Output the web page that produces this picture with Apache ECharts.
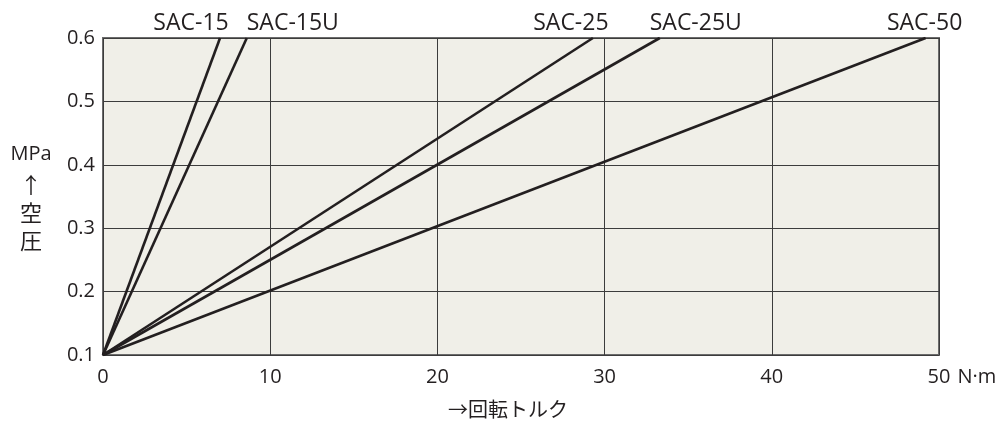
<!DOCTYPE html>
<html>
<head>
<meta charset="utf-8">
<script src="https://cdn.jsdelivr.net/npm/echarts@6/dist/echarts.min.js"></script>
<style>
  html, body { margin: 0; padding: 0; background: #fff; }
  #chart { width: 1003px; height: 434px; }
</style>
</head>
<body>
<div id="chart"></div>
<script>
"use strict";

// 機種ごとの直線: 原点 (0, 0.1MPa) から 0.6MPa でのトルク
const models = ["SAC-15", "SAC-15U", "SAC-25", "SAC-25U", "SAC-50"];
const startTorque = [0, 0, 0, 0, 0];
const startPressure = [0.1, 0.1, 0.1, 0.1, 0.1];
const endTorque = [7.0, 8.6, 29.3, 33.3, 49.2];
const endPressure = [0.6, 0.6, 0.6, 0.6, 0.6];
const xTicks = [0, 10, 20, 30, 40, 50];
const yTicks = [0.1, 0.2, 0.3, 0.4, 0.5, 0.6];

// ラベルの横ずらし (px)
const labelShift = [-29, 46, -22, 36, -1];

const INK = "#231f20";
const FONT = "'Open Sans', 'Noto Sans', 'Noto Sans CJK JP', sans-serif";
const CJK = "'Noto Sans CJK JP', sans-serif";

const chart = echarts.init(document.getElementById("chart"));

const option = {
  animation: false,
  textStyle: { fontFamily: FONT, color: INK },
  grid: {
    left: 103, right: 64, top: 38, bottom: 79,
    outerBoundsMode: "none",
    containLabel: false,
    show: true, backgroundColor: "#f0efe8",
    borderColor: "#6b6b6b", borderWidth: 2,
  },
  xAxis: {
    type: "value",
    min: xTicks[0], max: xTicks[xTicks.length - 1], interval: 10,
    axisLine: { show: false },
    axisTick: { show: false },
    splitLine: { lineStyle: { color: "#3c3c3c", width: 1 } },
    axisLabel: {
      fontSize: 20, color: INK, margin: 12, fontFamily: FONT,
      formatter: (v) => (v === 50 ? "{p|}50{u|N·m}" : String(v)),
      rich: {
        p: { width: 48 },
        u: { fontSize: 20, color: INK, padding: [0, 0, 0, 5], width: 43, fontFamily: FONT },
      },
    },
    name: "→回転トルク",
    nameLocation: "middle",
    nameGap: 44,
    nameTextStyle: { fontSize: 20, color: INK, padding: [0, 26, 0, 0], fontFamily: CJK },
  },
  yAxis: {
    type: "value",
    min: yTicks[0], max: yTicks[yTicks.length - 1], interval: 0.1,
    axisLine: { show: false },
    axisTick: { show: false },
    splitLine: { lineStyle: { color: "#3c3c3c", width: 1 } },
    axisLabel: {
      fontSize: 20, color: INK, margin: 8, fontFamily: FONT,
      formatter: (v) => v.toFixed(1),
    },
    name: "{a|MPa}\n{b|↑}\n{b|空}\n{b|圧}",
    nameLocation: "middle",
    nameRotate: 0,
    nameGap: 72,
    nameMoveOverlap: false,
    nameTextStyle: {
      align: "center",
      fontSize: 20,
      fontFamily: FONT,
      rich: {
        a: { fontSize: 20, color: INK, lineHeight: 32, align: "center", fontFamily: FONT },
        b: { fontSize: 22, color: INK, lineHeight: 28, align: "center", fontFamily: CJK },
      },
    },
  },
  series: models.map((name, i) => ({
    name,
    type: "line",
    showSymbol: true,
    symbol: "circle",
    symbolSize: 0,
    lineStyle: { color: INK, width: 2.6 },
    itemStyle: { color: INK },
    emphasis: { disabled: true },
    data: [
      { value: [startTorque[i], startPressure[i]], label: { show: false } },
      {
        value: [endTorque[i], endPressure[i]],
        label: {
          show: true, position: "top", distance: 3,
          offset: [labelShift[i], 0],
          formatter: name, fontSize: 23, color: INK, fontFamily: FONT,
        },
      },
    ],
  })),
};

chart.setOption(option);
</script>
</body>
</html>
